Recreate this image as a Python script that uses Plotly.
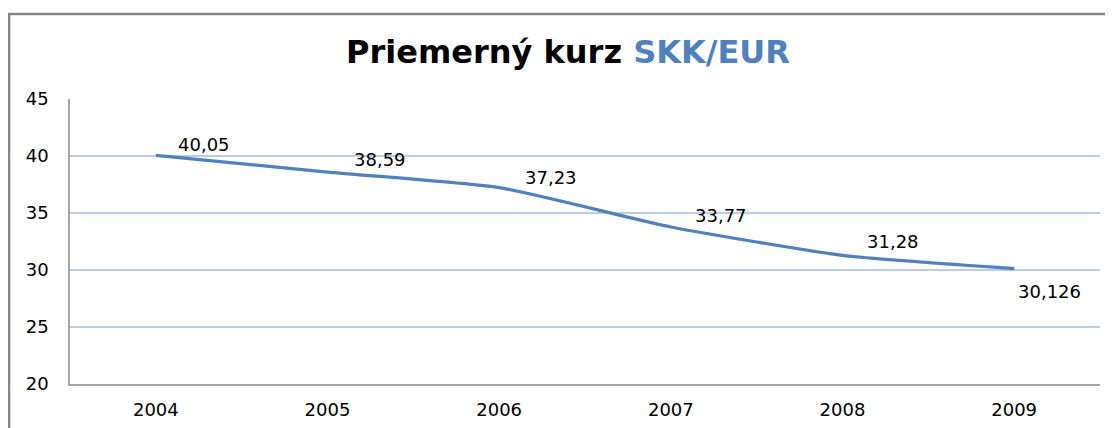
import plotly.graph_objects as go

years = ["2004", "2005", "2006", "2007", "2008", "2009"]
rates = [40.05, 38.59, 37.23, 33.77, 31.28, 30.126]
labels = ["40,05", "38,59", "37,23", "33,77", "31,28", "30,126"]

FONT = "DejaVu Sans, Liberation Sans, sans-serif"

# label placement style (above-right for all but the last, below-right for last)
label_xshift = [20, 24, 24, 22, 22, 2]
label_yshift = [11, 13, 10, 12, 14, -23]

fig = go.Figure()
fig.add_trace(go.Scatter(
    x=years, y=rates, mode="lines",
    line=dict(color="#4F81BD", width=3.2, shape="spline", smoothing=0.5),
    hoverinfo="skip",
))

annotations = [
    dict(x=i, y=yv, xref="x", yref="y", text=t, showarrow=False,
         xanchor="left", yanchor="middle", xshift=xs, yshift=ys,
         font=dict(family=FONT, size=18, color="#000000"))
    for i, (yv, t, xs, ys) in enumerate(zip(rates, labels, label_xshift, label_yshift))
]

fig.update_layout(
    width=1105, height=420,
    margin=dict(l=62, r=13, t=91, b=44),
    paper_bgcolor="white", plot_bgcolor="white",
    showlegend=False,
    title=dict(
        text="<b>Priemerný kurz <span style='color:#4F81BD'>SKK/EUR</span></b>",
        xref="paper", x=0.4835, xanchor="center", y=0.895, yanchor="middle",
        font=dict(family=FONT, size=32, color="#000000"),
    ),
    xaxis=dict(
        type="category", range=[-0.5, 5.5], automargin=False,
        showgrid=False, showline=True, linecolor="#A6A6A6", linewidth=2,
        ticks="", tickfont=dict(family=FONT, size=18, color="#000000"),
        ticklabelstandoff=8,
    ),
    yaxis=dict(
        range=[20, 45], dtick=5, tick0=20, automargin=False,
        showgrid=True, gridcolor="#B9CDE5", gridwidth=1.5,
        showline=True, linecolor="#A6A6A6", linewidth=1.5,
        ticks="", zeroline=False,
        tickfont=dict(family=FONT, size=18, color="#000000"),
        ticklabelstandoff=16,
    ),
    annotations=annotations,
    shapes=[dict(
        type="rect", xref="paper", yref="paper",
        x0=-0.0592, x1=1.05, y0=-0.4, y1=1.298,
        line=dict(color="#868686", width=2.5), fillcolor="rgba(0,0,0,0)", layer="below",
    )],
)

fig.write_html("out.html")
